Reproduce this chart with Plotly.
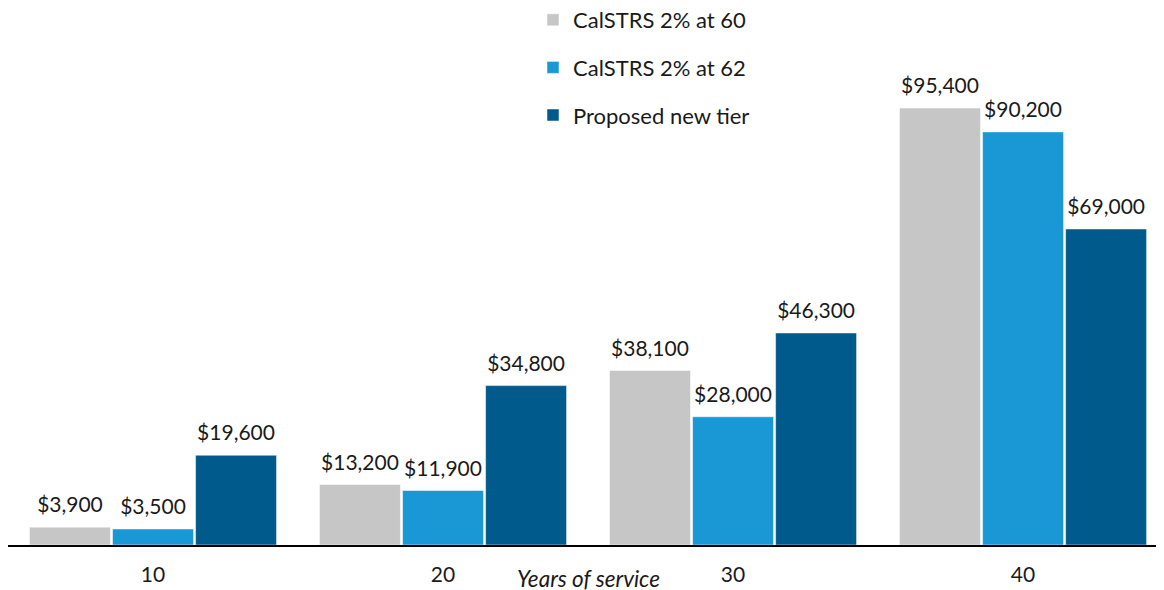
import plotly.graph_objects as go

categories = ["10", "20", "30", "40"]
series_names = ["CalSTRS 2% at 60", "CalSTRS 2% at 62", "Proposed new tier"]
calstrs_60 = [3900, 13200, 38100, 95400]
calstrs_62 = [3500, 11900, 28000, 90200]
proposed = [19600, 34800, 46300, 69000]
colors = ["#C6C6C6", "#1A98D5", "#005A8C"]
axis_title = "Years of service"

FONT = "Lato, 'Open Sans', sans-serif"
W, H = 1156, 582
PLOT_H = 458

fig = go.Figure()
all_vals = [calstrs_60, calstrs_62, proposed]
for i, (name, vals) in enumerate(zip(series_names, all_vals)):
    fig.add_trace(go.Bar(
        x=categories, y=vals, name=name,
        marker=dict(color=colors[i], line=dict(color="white", width=0.5)),
        offsetgroup=f"g{i}", alignmentgroup="a",
        cliponaxis=False,
        legendgroup=f"g{i}",
    ))
for i, (name, vals) in enumerate(zip(series_names, all_vals)):
    fig.add_trace(go.Scatter(
        x=categories, y=vals, name=name + " labels",
        mode="markers+text",
        marker=dict(size=14, opacity=0),
        text=[f"${v:,}" for v in vals],
        textposition="top center",
        textfont=dict(family=FONT, size=21, color="#1a1a1a"),
        offsetgroup=f"g{i}", alignmentgroup="a",
        cliponaxis=False,
        showlegend=False, hoverinfo="skip",
    ))

fig.update_layout(
    width=W, height=H,
    margin=dict(l=0, r=0, t=79, b=45, autoexpand=False),
    plot_bgcolor="white", paper_bgcolor="white",
    barmode="group", bargap=0.141, bargroupgap=0.025,
    scattermode="group", scattergap=0.141,
    font=dict(family=FONT, size=21, color="#1a1a1a"),
    showlegend=True,
    legend=dict(
        xref="container", yref="paper",
        x=525 / W, y=1 + (79 + 9) / PLOT_H, xanchor="left", yanchor="top",
        traceorder="grouped", tracegroupgap=16,
        font=dict(family=FONT, size=22, color="#1a1a1a"),
        itemwidth=30,
        bgcolor="rgba(0,0,0,0)",
    ),
    xaxis=dict(
        type="category", range=[-0.5, 3.486],
        showline=True, linecolor="black", linewidth=2,
        ticks="", showgrid=False, ticklabelstandoff=10,
        tickfont=dict(family=FONT, size=21, color="#1a1a1a"),
    ),
    yaxis=dict(range=[0, 100000], visible=False, showgrid=False),
    annotations=[dict(
        text=axis_title, xref="paper", yref="paper",
        x=580 / W, y=-33 / PLOT_H, xanchor="center", yanchor="middle",
        showarrow=False, font=dict(family=FONT, size=22.5, color="#1a1a1a", style="italic"),
    )],
)

fig.write_html("out.html")
